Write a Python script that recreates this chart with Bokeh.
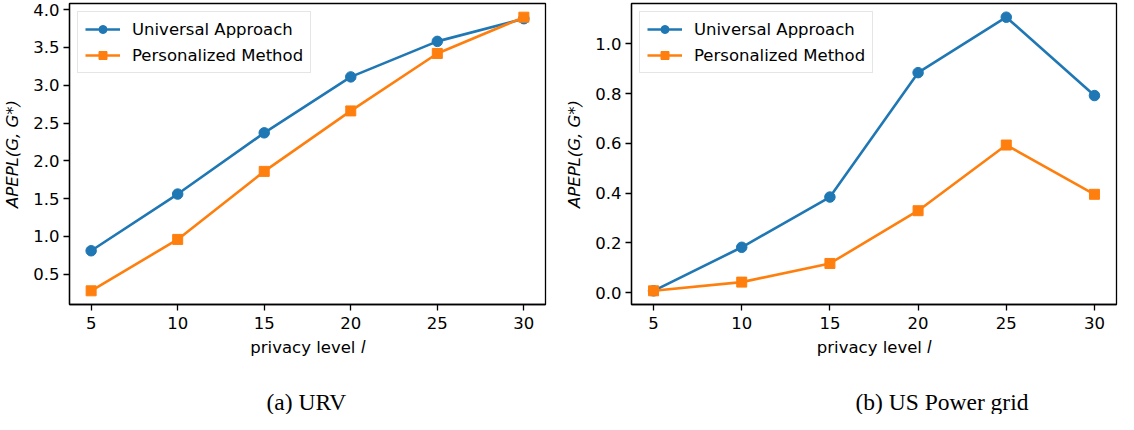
from bokeh.plotting import figure
from bokeh.layouts import row
from bokeh.models import FixedTicker, PrintfTickFormatter, Title, Range1d
from bokeh.embed import file_html
from bokeh.resources import INLINE

# ---- data ----
privacy_levels = [5, 10, 15, 20, 25, 30]
urv_universal = [0.81, 1.56, 2.37, 3.11, 3.58, 3.88]
urv_personalized = [0.28, 0.96, 1.86, 2.66, 3.42, 3.90]
grid_universal = [0.007, 0.182, 0.384, 0.884, 1.107, 0.792]
grid_personalized = [0.007, 0.042, 0.117, 0.329, 0.593, 0.395]
x_ticks = [5, 10, 15, 20, 25, 30]
urv_y_ticks = [0.5, 1.0, 1.5, 2.0, 2.5, 3.0, 3.5, 4.0]
grid_y_ticks = [0.0, 0.2, 0.4, 0.6, 0.8, 1.0]
series_names = ["Universal Approach", "Personalized Method"]
captions = ["(a) URV", "(b) US Power grid"]
x_label = "privacy level \U0001D459"
y_label = "APEPL(G, G*)"

BLUE = "#1f77b4"
ORANGE = "#ff7f0e"
FONT = "DejaVu Sans"
FS = "16.5px"


def padded(vals, frac=0.05):
    lo, hi = min(vals), max(vals)
    span = hi - lo
    return lo - frac * span, hi + frac * span


def make_panel(uni, per, yticks, caption, width, border_left, border_right, cap_offset):
    x0, x1 = padded(privacy_levels)
    y0, y1 = padded(uni + per)
    p = figure(width=width, height=414, output_backend="svg", toolbar_location=None,
               x_range=Range1d(x0, x1), y_range=Range1d(y0, y1),
               min_border_left=border_left, min_border_right=border_right,
               min_border_top=3, min_border_bottom=40)
    p.xgrid.visible = False
    p.ygrid.visible = False
    p.outline_line_color = "black"
    p.outline_line_width = 1.3
    p.outline_line_alpha = 1.0
    p.background_fill_color = "white"
    p.border_fill_color = "white"

    p.line(privacy_levels, uni, line_color=BLUE, line_width=2.6, legend_label=series_names[0])
    p.scatter(privacy_levels, uni, marker="circle", size=10.5, fill_color=BLUE, line_color=BLUE,
              legend_label=series_names[0])
    p.line(privacy_levels, per, line_color=ORANGE, line_width=2.6, legend_label=series_names[1])
    p.scatter(privacy_levels, per, marker="square", size=10, fill_color=ORANGE, line_color=ORANGE,
              legend_label=series_names[1])

    for ax in (p.xaxis[0], p.yaxis[0]):
        ax.axis_line_color = "black"
        ax.axis_line_width = 1.3
        ax.major_tick_line_color = "black"
        ax.major_tick_line_width = 1.3
        ax.major_tick_out = 6
        ax.major_tick_in = 0
        ax.minor_tick_line_color = None
        ax.major_label_text_font = FONT
        ax.major_label_text_font_size = FS
        ax.major_label_text_color = "black"
        ax.axis_label_text_font = FONT
        ax.axis_label_text_font_size = FS
        ax.axis_label_text_color = "black"

    p.xaxis.ticker = FixedTicker(ticks=x_ticks)
    p.xaxis.major_label_standoff = 6
    p.xaxis.axis_label = x_label
    p.xaxis.axis_label_text_font_style = "normal"
    p.xaxis.axis_label_standoff = 6

    p.yaxis.ticker = FixedTicker(ticks=yticks)
    p.yaxis.formatter = PrintfTickFormatter(format="%.1f")
    p.yaxis.major_label_standoff = 4
    p.yaxis.axis_label = y_label
    p.yaxis.axis_label_text_font_style = "italic"
    p.yaxis.axis_label_standoff = 8

    lg = p.legend[0]
    lg.location = "top_left"
    lg.margin = 8
    lg.padding = 7
    lg.spacing = 6
    lg.glyph_width = 35
    lg.glyph_height = 20
    lg.label_standoff = 12
    lg.label_text_font = FONT
    lg.label_text_font_size = FS
    lg.label_text_color = "black"
    lg.border_line_color = "#cccccc"
    lg.border_line_width = 1.3
    lg.background_fill_alpha = 0.8

    # spacer between axis label and caption
    p.add_layout(Title(text="\u00a0", standoff=0, text_font_size="22px",
                       text_color="white"), "below")
    p.add_layout(Title(text=caption, align="left", offset=cap_offset, standoff=0,
                       text_font="Liberation Serif", text_font_size="23.5px",
                       text_font_style="normal", text_color="black"), "below")
    return p


p1 = make_panel(urv_universal, urv_personalized, urv_y_ticks, captions[0],
                width=562, border_left=64, border_right=17, cap_offset=197)
p2 = make_panel(grid_universal, grid_personalized, grid_y_ticks, captions[1],
                width=556, border_left=68, border_right=2, cap_offset=224)

layout = row(p1, p2, spacing=0)
open("out.html", "w").write(file_html(layout, INLINE))
